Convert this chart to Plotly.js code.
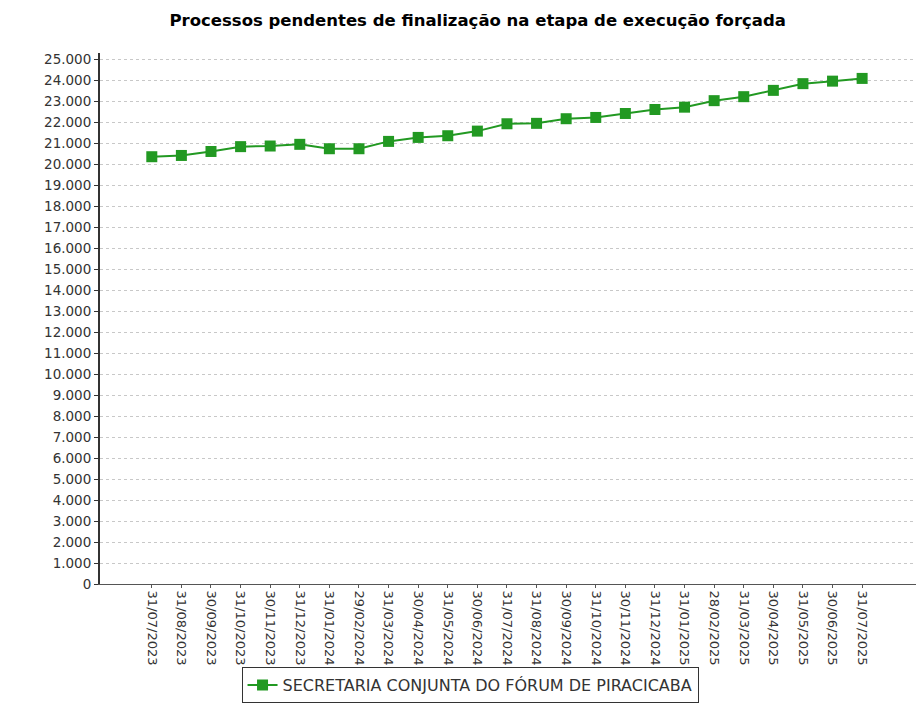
<!DOCTYPE html>
<html>
<head>
<meta charset="utf-8">
<script src="https://cdn.plot.ly/plotly-3.0.1.min.js"></script>
<style>html,body{margin:0;padding:0;background:#fff;}#chart{width:924px;height:706px;}</style>
</head>
<body>
<div id="chart"></div>
<script>
const dates = ["31/07/2023","31/08/2023","30/09/2023","31/10/2023","30/11/2023","31/12/2023","31/01/2024","29/02/2024","31/03/2024","30/04/2024","31/05/2024","30/06/2024","31/07/2024","31/08/2024","30/09/2024","31/10/2024","30/11/2024","31/12/2024","31/01/2025","28/02/2025","31/03/2025","30/04/2025","31/05/2025","30/06/2025","31/07/2025"];
const pendentes = [20350,20410,20600,20830,20860,20940,20730,20730,21080,21270,21350,21570,21920,21940,22160,22220,22410,22600,22710,23020,23210,23510,23830,23950,24080];
const seriesName = "SECRETARIA CONJUNTA DO FÓRUM DE PIRACICABA";
const chartTitle = "Processos pendentes de finalização na etapa de execução forçada";

const green = "#229922";
const trace = {
  x: dates.map((d, i) => i),
  y: pendentes,
  type: "scatter",
  mode: "lines+markers",
  name: seriesName,
  line: {color: green, width: 2},
  marker: {symbol: "square", size: 11, color: green},
  hovertemplate: "%{text}: %{y}<extra></extra>",
  text: dates
};

const layout = {
  width: 924, height: 706,
  paper_bgcolor: "#fff", plot_bgcolor: "#fff",
  separators: ",.",
  margin: {l: 100, r: 8, t: 53, b: 122},
  title: {
    text: "<b>" + chartTitle + "</b>",
    font: {family: "DejaVu Sans, sans-serif", size: 16.5, color: "#000"},
    x: 0.517, xanchor: "center", y: 0.972, yanchor: "middle", yref: "container"
  },
  font: {family: "DejaVu Sans, sans-serif", size: 13, color: "#333"},
  xaxis: {
    range: [-1.75, 25.82],
    tickmode: "array",
    tickvals: dates.map((d, i) => i),
    ticktext: dates,
    tickangle: 90,
    ticks: "outside", ticklen: 3, tickcolor: "#555",
    showgrid: false, zeroline: false,
    showline: true, linecolor: "#555", linewidth: 1,
    automargin: false,
    tickfont: {family: "DejaVu Sans, sans-serif", size: 13, color: "#333"}
  },
  yaxis: {
    range: [0, 25290],
    tickmode: "linear", tick0: 0, dtick: 1000,
    tickformat: ",d",
    ticks: "outside", ticklen: 4, tickcolor: "#333",
    showgrid: true, gridcolor: "#c8c8c8", griddash: "dot", gridwidth: 1,
    zeroline: false,
    showline: true, linecolor: "#333", linewidth: 2,
    automargin: false,
    tickfont: {family: "DejaVu Sans, sans-serif", size: 13.5, color: "#333"}
  },
  showlegend: true,
  legend: {
    orientation: "h",
    xref: "container", yref: "container",
    x: 0.5087, xanchor: "center",
    y: 0.004, yanchor: "bottom",
    bordercolor: "#333", borderwidth: 1,
    bgcolor: "#fff",
    font: {family: "DejaVu Sans, sans-serif", size: 16, color: "#333"}
  }
};

Plotly.newPlot("chart", [trace], layout, {displayModeBar: false, staticPlot: true});
</script>
</body>
</html>
